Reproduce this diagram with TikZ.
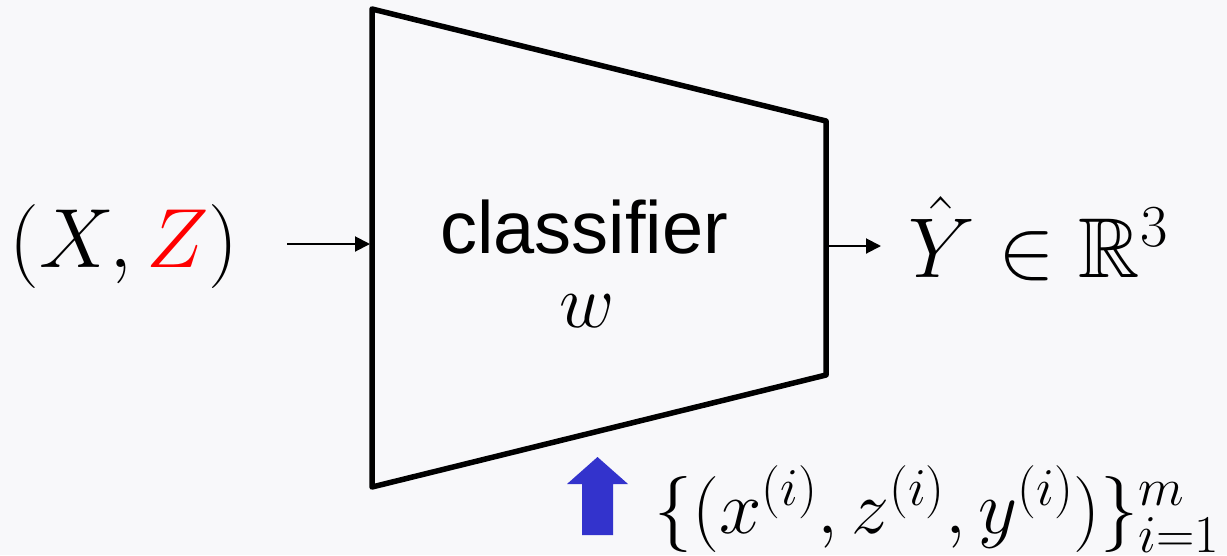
\RequirePackage{fix-cm}
\documentclass[tikz,border=0pt]{standalone}
\usepackage{amssymb}
\usepackage{fontspec}
\newfontfamily\arialfont{Liberation Sans}
\usetikzlibrary{arrows.meta}
\definecolor{bgcol}{RGB}{248,248,250}
\definecolor{arrowblue}{RGB}{51,51,204}
\definecolor{zred}{RGB}{255,0,0}
\begin{document}
\begin{tikzpicture}[x=1pt,y=-1pt,
  lbl/.style={inner sep=0pt, outer sep=0pt, anchor=base},
  flow/.style={line width=2pt, -{Triangle[length=15pt,width=15pt]}},
  box/.style={line width=5.5pt, line join=round}]
\fill[bgcol] (0,0) rectangle (1227,555);
\useasboundingbox (0,0) rectangle (1227,555);
% trapezoid corners
\coordinate (tl) at (372,9);
\coordinate (tr) at (826,121);
\coordinate (br) at (826,375);
\coordinate (bl) at (372,487);
\draw[box] (tl) -- (tr) -- (br) -- (bl) -- cycle;
% connectors
\coordinate (inStart) at (287,244);
\coordinate (inEnd) at (370,244);
\coordinate (outStart) at (828,246);
\coordinate (outEnd) at (881,246);
\draw[flow] (inStart) -- (inEnd);
\draw[flow] (outStart) -- (outEnd);
% labels
\node[lbl] (input) at (124,267) {\fontsize{84}{100}\selectfont $(X,\textcolor{zred}{Z})$};
\node[lbl] (output) at (1038,277) {\fontsize{85}{100}\selectfont $\hat{Y}\in\mathbb{R}^3$};
\node[lbl] (cls) at (584,253) {\fontsize{74}{90}\selectfont\arialfont classifier};
\node[lbl] (wlbl) at (587,327) {\fontsize{76}{90}\selectfont $w$};
\node[lbl] (data) at (937,533) {\fontsize{76}{90}\selectfont $\{(x^{(i)},z^{(i)},y^{(i)})\}_{i=1}^{m}$};
% blue arrow
\fill[arrowblue] (597.5,457) -- (628,484) -- (613,484) -- (613,535) -- (582,535) -- (582,484) -- (567,484) -- cycle;
\end{tikzpicture}
\end{document}
